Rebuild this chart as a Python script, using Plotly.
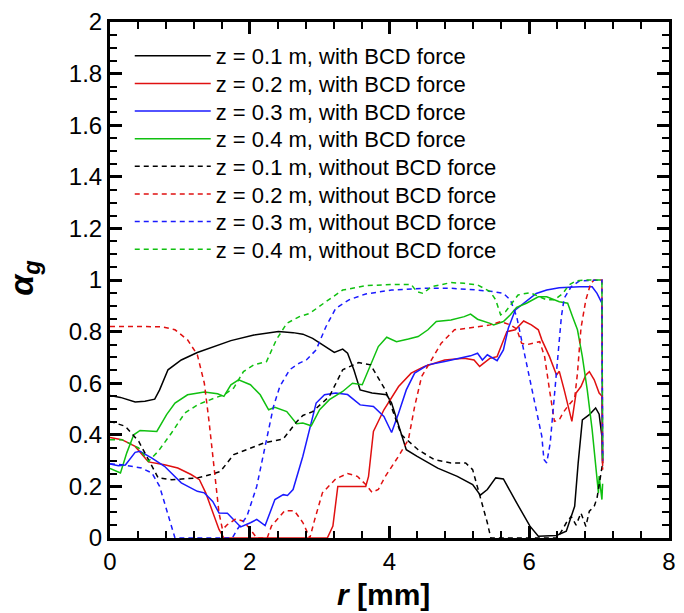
import plotly.graph_objects as go

# Gas volume fraction profiles alpha_g(r) at four heights, with / without BCD force

# z = 0.1 m, with BCD force
r_z01_with = [0, 0.15, 0.36, 0.5, 0.64, 0.71, 0.83, 1.02, 1.25, 1.5, 1.73, 2.06, 2.41, 2.62, 2.76, 2.90,
              3.09, 3.21, 3.33, 3.40, 3.49, 3.58, 3.75, 3.96, 4.03, 4.13, 4.24, 4.39, 4.69, 4.97, 5.19,
              5.30, 5.40, 5.52, 5.63, 5.82, 6.01, 6.13, 6.25, 6.39, 6.53, 6.65, 6.70, 6.76, 6.86, 6.95,
              7.0, 7.04, 7.05]
a_z01_with = [0.552, 0.545, 0.527, 0.530, 0.538, 0.574, 0.652, 0.69, 0.719, 0.742, 0.765, 0.787, 0.80,
              0.796, 0.79, 0.774, 0.742, 0.719, 0.732, 0.716, 0.652, 0.574, 0.562, 0.555, 0.523, 0.433,
              0.342, 0.317, 0.271, 0.239, 0.207, 0.166, 0.188, 0.233, 0.229, 0.136, 0.046, 0.007, 0.008,
              0.01, 0.026, 0.123, 0.29, 0.458, 0.478, 0.504, 0.48, 0.394, 0.29]

# z = 0.2 m, with BCD force
r_z02_with = [0, 0.17, 0.36, 0.55, 0.78, 0.97, 1.16, 1.28, 1.37, 1.47, 1.56, 1.63, 2.5, 3.11, 3.19, 3.26,
              3.66, 3.70, 3.77, 3.92, 4.13, 4.31, 4.50, 4.79, 5.07, 5.21, 5.29, 5.44, 5.54, 5.68, 5.80,
              5.92, 6.03, 6.13, 6.18, 6.29, 6.39, 6.43, 6.50, 6.55, 6.61, 6.67, 6.74, 6.81, 6.86, 6.93,
              7.0, 7.04, 7.05]
a_z02_with = [0.39, 0.381, 0.355, 0.295, 0.284, 0.271, 0.246, 0.226, 0.175, 0.097, 0.033, 0.0, 0.0, 0.0,
              0.046, 0.20, 0.20, 0.239, 0.413, 0.497, 0.587, 0.639, 0.665, 0.69, 0.697, 0.69, 0.665,
              0.697, 0.703, 0.80, 0.807, 0.841, 0.826, 0.807, 0.768, 0.703, 0.632, 0.646, 0.574, 0.516,
              0.452, 0.562, 0.587, 0.632, 0.645, 0.613, 0.562, 0.55, 0.278]

# z = 0.3 m, with BCD force
r_z03_with = [0, 0.12, 0.22, 0.36, 0.43, 0.60, 0.78, 1.02, 1.25, 1.35, 1.47, 1.56, 1.68, 1.87, 2.01,
              2.10, 2.22, 2.36, 2.48, 2.54, 2.62, 2.76, 2.95, 3.07, 3.23, 3.40, 3.58, 3.77, 3.92, 4.03,
              4.13, 4.24, 4.36, 4.55, 4.79, 5.02, 5.16, 5.26, 5.33, 5.40, 5.44, 5.54, 5.63, 5.70, 5.80,
              5.92, 6.10, 6.25, 6.43, 6.72, 6.90, 6.97, 7.04, 7.05]
a_z03_with = [0.287, 0.28, 0.283, 0.332, 0.336, 0.31, 0.278, 0.214, 0.181, 0.175, 0.142, 0.097, 0.096,
              0.043, 0.059, 0.072, 0.048, 0.149, 0.168, 0.165, 0.188, 0.317, 0.523, 0.555, 0.562, 0.556,
              0.516, 0.51, 0.471, 0.409, 0.484, 0.574, 0.639, 0.671, 0.684, 0.697, 0.706, 0.716, 0.69,
              0.71, 0.703, 0.687, 0.729, 0.813, 0.884, 0.91, 0.948, 0.961, 0.97, 0.974, 0.974, 0.948,
              0.91, 0.30]

# z = 0.4 m, with BCD force
r_z04_with = [0, 0.15, 0.24, 0.34, 0.43, 0.67, 0.81, 0.93, 1.11, 1.35, 1.54, 1.63, 1.73, 1.84, 2.01,
              2.15, 2.27, 2.36, 2.53, 2.67, 2.76, 2.88, 3.0, 3.14, 3.33, 3.47, 3.61, 3.70, 3.84, 3.96,
              4.10, 4.27, 4.41, 4.55, 4.67, 4.88, 5.07, 5.16, 5.26, 5.44, 5.49, 5.63, 5.73, 5.82, 5.96,
              6.13, 6.25, 6.43, 6.55, 6.62, 6.69, 6.76, 6.83, 6.90, 6.95, 6.99, 7.0, 7.04, 7.05]
a_z04_with = [0.27, 0.252, 0.33, 0.40, 0.417, 0.413, 0.478, 0.523, 0.555, 0.566, 0.559, 0.549, 0.594,
              0.613, 0.594, 0.555, 0.497, 0.507, 0.49, 0.443, 0.446, 0.435, 0.497, 0.536, 0.568, 0.60,
              0.594, 0.652, 0.742, 0.778, 0.761, 0.771, 0.781, 0.807, 0.839, 0.845, 0.858, 0.868, 0.848,
              0.832, 0.826, 0.839, 0.865, 0.894, 0.91, 0.935, 0.935, 0.916, 0.91, 0.858, 0.807, 0.703,
              0.574, 0.42, 0.291, 0.175, 0.24, 0.149, 0.21]

# z = 0.1 m, without BCD force
r_z01_without = [0, 0.22, 0.41, 0.55, 0.69, 0.88, 1.25, 1.44, 1.58, 1.77, 1.96, 2.20, 2.48, 2.67, 2.76,
                 2.90, 3.14, 3.33, 3.56, 3.73, 3.94, 4.17, 4.41, 4.64, 4.88, 5.09, 5.19, 5.30, 5.40, 5.45,
                 6.0, 6.40, 6.47, 6.53, 6.60, 6.67, 6.74, 6.81, 6.86, 6.93, 6.97, 7.02, 7.05]
a_z01_without = [0.452, 0.433, 0.375, 0.304, 0.233, 0.226, 0.233, 0.246, 0.258, 0.323, 0.342, 0.368,
                 0.384, 0.45, 0.475, 0.49, 0.549, 0.652, 0.68, 0.671, 0.574, 0.40, 0.342, 0.304, 0.291,
                 0.291, 0.265, 0.162, 0.059, 0.0, 0.0, 0.0, 0.03, 0.059, 0.084, 0.05, 0.097, 0.045, 0.104,
                 0.123, 0.155, 0.239, 0.29]

# z = 0.2 m, without BCD force
r_z02_without = [0, 0.74, 0.93, 1.11, 1.25, 1.35, 1.42, 1.49, 1.56, 1.61, 1.68, 1.80, 1.91, 2.01, 2.10,
                 2.25, 2.31, 2.50, 2.64, 2.76, 2.81, 2.86, 2.93, 3.04, 3.23, 3.40, 3.54, 3.66, 3.75, 3.84,
                 3.94, 4.13, 4.27, 4.36, 4.46, 4.60, 4.74, 4.93, 5.12, 5.44, 5.59, 5.73, 5.82, 5.89, 5.96,
                 6.15, 6.22, 6.29, 6.36, 6.43, 6.48, 6.55, 6.65, 6.69, 6.74, 6.81, 6.88, 6.93, 7.04, 7.05]
a_z02_without = [0.82, 0.819, 0.807, 0.768, 0.71, 0.60, 0.446, 0.278, 0.097, 0.033, 0.052, 0.074, 0.065,
                 0.033, 0.0, 0.0, 0.046, 0.106, 0.105, 0.06, 0.033, 0.0, 0.072, 0.175, 0.229, 0.25, 0.239,
                 0.207, 0.177, 0.188, 0.239, 0.317, 0.381, 0.51, 0.626, 0.69, 0.755, 0.807, 0.813, 0.826,
                 0.839, 0.826, 0.81, 0.755, 0.749, 0.761, 0.703, 0.574, 0.452, 0.458, 0.484, 0.51, 0.542,
                 0.639, 0.813, 0.923, 0.987, 1.0, 1.0, 0.265]

# z = 0.3 m, without BCD force
r_z03_without = [0, 0.22, 0.45, 0.60, 0.71, 0.78, 0.88, 0.93, 1.75, 1.82, 1.96, 2.10, 2.24, 2.34, 2.43,
                 2.57, 2.71, 2.81, 2.95, 3.09, 3.23, 3.42, 3.66, 4.03, 4.50, 4.88, 5.26, 5.49, 5.63, 5.73,
                 5.82, 5.92, 6.01, 6.10, 6.18, 6.21, 6.25, 6.30, 6.36, 6.41, 6.46, 6.50, 6.60, 6.72, 7.04,
                 7.05]
a_z03_without = [0.288, 0.282, 0.271, 0.252, 0.20, 0.136, 0.046, 0.0, 0.0, 0.033, 0.084, 0.20, 0.381,
                 0.51, 0.587, 0.652, 0.678, 0.69, 0.729, 0.819, 0.89, 0.923, 0.946, 0.961, 0.968, 0.968,
                 0.961, 0.955, 0.948, 0.923, 0.858, 0.729, 0.626, 0.51, 0.394, 0.304, 0.291, 0.368,
                 0.549, 0.703, 0.858, 0.929, 0.974, 0.997, 1.0, 0.30]

# z = 0.4 m, without BCD force
r_z04_without = [0, 0.17, 0.41, 0.55, 0.69, 0.88, 1.07, 1.25, 1.49, 1.63, 1.77, 1.91, 2.06, 2.24, 2.38,
                 2.53, 2.71, 2.86, 3.09, 3.33, 3.66, 4.03, 4.31, 4.39, 4.48, 4.60, 4.88, 5.07, 5.26, 5.44,
                 5.52, 5.59, 5.66, 5.73, 5.84, 6.01, 6.15, 6.25, 6.36, 6.48, 6.57, 6.67, 6.79, 7.04, 7.05]
a_z04_without = [0.381, 0.381, 0.349, 0.297, 0.336, 0.407, 0.484, 0.516, 0.542, 0.555, 0.581, 0.645,
                 0.671, 0.684, 0.768, 0.832, 0.858, 0.871, 0.916, 0.961, 0.978, 0.983, 0.983, 0.955, 0.948,
                 0.974, 0.99, 0.987, 0.981, 0.955, 0.923, 0.865, 0.877, 0.903, 0.942, 0.951, 0.935, 0.923,
                 0.923, 0.948, 0.981, 0.997, 1.0, 1.0, 0.30]

labels = [
    "z = 0.1 m, with BCD force",
    "z = 0.2 m, with BCD force",
    "z = 0.3 m, with BCD force",
    "z = 0.4 m, with BCD force",
    "z = 0.1 m, without BCD force",
    "z = 0.2 m, without BCD force",
    "z = 0.3 m, without BCD force",
    "z = 0.4 m, without BCD force",
]

series = [
    (r_z01_with, a_z01_with), (r_z02_with, a_z02_with),
    (r_z03_with, a_z03_with), (r_z04_with, a_z04_with),
    (r_z01_without, a_z01_without), (r_z02_without, a_z02_without),
    (r_z03_without, a_z03_without), (r_z04_without, a_z04_without),
]

colors = ["#000000", "#e01010", "#1a1aff", "#10c010"]
FONT = "Liberation Sans, Arial, Helvetica, sans-serif"

# figure geometry (px) used to place legend rows
W, H = 684, 613
ML, MR, MT, MB = 110, 8, 21, 75
plot_h = H - MT - MB
row_top = 55       # centre of the first legend row
row_step = 27.7    # spacing between legend rows
legend_left = 130

fig = go.Figure()
legend_layout = {}
for i, ((r, a), name) in enumerate(zip(series, labels)):
    dashed = i >= 4
    key = "legend" if i == 0 else f"legend{i + 1}"
    fig.add_trace(go.Scatter(
        x=r, y=a, mode="lines", name=name, legend=key,
        line=dict(color=colors[i % 4], width=1.5, dash="5px,4px" if dashed else "solid"),
    ))
    yc = row_top + i * row_step
    legend_layout[key] = dict(
        x=(legend_left - ML) / (W - ML - MR), y=(H - MB - yc) / plot_h,
        xanchor="left", yanchor="middle",
        bgcolor="rgba(0,0,0,0)", borderwidth=0, itemwidth=76,
        font=dict(family=FONT, size=22, color="black"),
    )

axis_common = dict(
    showline=True, linecolor="black", linewidth=3, mirror="ticks",
    ticks="inside", ticklen=12, tickwidth=3, tickcolor="black",
    showgrid=False, zeroline=False,
    tickfont=dict(family=FONT, size=24, color="black"),
)

fig.update_xaxes(range=[0, 8], dtick=2, tick0=0,
                 minor=dict(ticks="inside", ticklen=7, tickwidth=2, tickcolor="black", dtick=0.4,
                            showgrid=False),
                 **axis_common)
fig.update_yaxes(range=[0, 2], dtick=0.2, tick0=0,
                 minor=dict(ticks="inside", ticklen=7, tickwidth=2, tickcolor="black", dtick=0.05,
                            showgrid=False),
                 **axis_common)

fig.add_annotation(text="<b><i>r</i> [mm]</b>", xref="paper", yref="paper",
                   x=0.49, y=-0.11, xanchor="center", yanchor="middle", showarrow=False,
                   font=dict(family=FONT, size=30, color="black"))
fig.add_annotation(text="<b><i>α<sub>g</sub></i></b>", xref="paper", yref="paper",
                   x=-0.155, y=0.505, xanchor="center", yanchor="middle", showarrow=False,
                   textangle=-90, font=dict(family=FONT, size=34, color="black"))

fig.update_layout(
    width=W, height=H,
    margin=dict(l=ML, r=MR, t=MT, b=MB),
    paper_bgcolor="white", plot_bgcolor="white",
    showlegend=True,
    **legend_layout,
)

fig.write_html("out.html")
